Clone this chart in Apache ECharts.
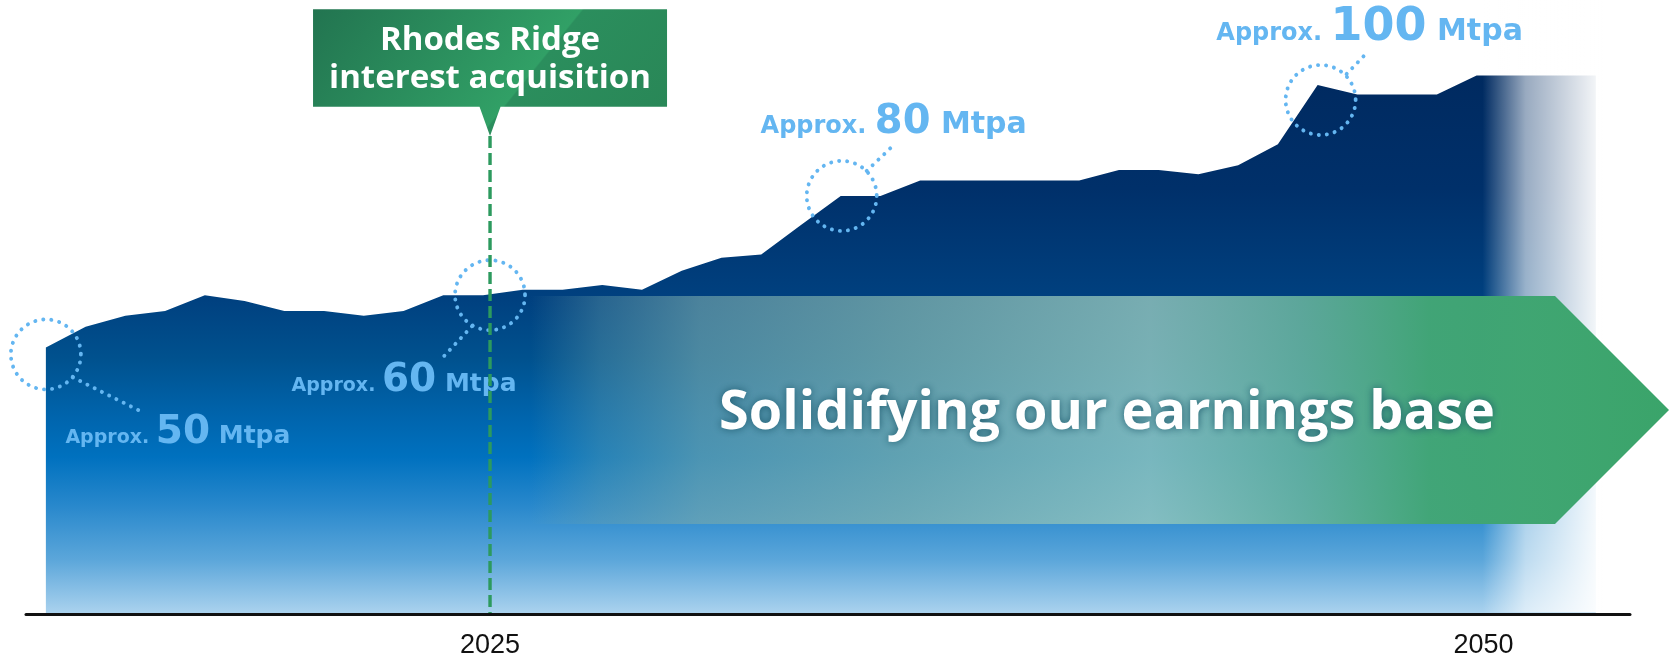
<!DOCTYPE html>
<html><head><meta charset="utf-8">
<script src="https://cdn.jsdelivr.net/npm/echarts@6/dist/echarts.min.js"></script>
<style>html,body{margin:0;padding:0;background:#fff}#c{width:1671px;height:657px}</style>
</head><body><div id="c"></div>
<script>
// ---------------- data ----------------
const years = [2014,2015,2016,2017,2018,2019,2020,2021,2022,2023,2024,2025,2026,2027,2028,2029,2030,2031,2032,2033,2034,2035,2036,2037,2038,2039,2040,2041,2042,2043,2044,2045,2046,2047,2048,2049,2050,2051,2052,2053];
const capacity = [50.3,54.2,56.3,57.2,60.2,59.1,57.2,57.2,56.3,57.2,60.2,60.2,61.2,61.2,62.1,61.2,64.8,67.3,67.9,73.5,79.0,79.0,81.9,81.9,81.9,81.9,81.9,83.9,83.9,83.1,84.8,88.8,100.0,98.2,98.2,98.2,101.8,101.8,101.8,101.8];
const tickYears = [2025, 2050];
const milestoneYears = [2014, 2025, 2034, 2046];
const milestoneLabels = ['50', '60', '80', '100'];
const acquisitionYear = 2025;
const acquisitionText = ['Rhodes Ridge', 'interest acquisition'];
const bannerText = 'Solidifying our earnings base';

// ---------------- styles / layout ----------------
const DOT = '#64b6f1';
const LABEL_FONT = '"DejaVu Sans", sans-serif';
const MAIN_FONT = '"Open Sans", sans-serif';
const TICK_SHIFT = 7; // ticks drawn slightly right of the yearly points
const milestoneStyle = [
  {dx:0, dy:7,  from:[27,23],  to:[93,56],  lx:132, ly:88.6, sizes:[19,39,25]},
  {dx:7, dy:0,  from:[-18,31], to:[-47,62], lx:-86, ly:96,   sizes:[19,39,25]},
  {dx:1, dy:0,  from:[25,-25], to:[49,-48], lx:52,  ly:-62.5, sizes:[24,40,30]},
  {dx:3, dy:15, from:[26,-26], to:[48,-49], lx:49,  ly:-60.5, sizes:[24,46,30]}
];

// text measurement: width and distance from the 'middle' line down to the baseline
const mctx = document.createElement('canvas').getContext('2d');
function measure(font, text){
  mctx.font = font; mctx.textBaseline = 'middle';
  const w = mctx.measureText(text).width;
  const a = mctx.measureText('H').actualBoundingBoxDescent;
  return {w, a};
}
function baselineText(x, baseline, text, font, fill, align, extra){
  const m = measure(font, text);
  return Object.assign({type:'text', x:x, y:baseline - m.a,
    style:{text, font, fill, align:align||'left', verticalAlign:'middle'}}, extra||{});
}

const chart = echarts.init(document.getElementById('c'));
const areaData = years.map((y,i)=>[y, capacity[i]]);
const milestoneData = milestoneYears.map((y,i)=>[y, capacity[years.indexOf(y)], i]);

const areaGradient = new echarts.graphic.LinearGradient(0,0,0,1,[
  {offset:0,    color:'#002a60'},
  {offset:0.21, color:'#00306a'},
  {offset:0.42, color:'#004180'},
  {offset:0.53, color:'#00528f'},
  {offset:0.62, color:'#0062a9'},
  {offset:0.71, color:'#0071bf'},
  {offset:0.80, color:'#2888cc'},
  {offset:0.90, color:'#5ba6da'},
  {offset:1,    color:'#aad2ee'}
]);

const option = {
  animation:false,
  grid:{left:26, right:41, top:32.2, bottom:44, containLabel:false, outerBoundsMode:'none'},
  xAxis:{
    type:'value', min:2013.5, max:2053.86, z:10, offset:1,
    axisLine:{show:true, onZero:false, lineStyle:{color:'#111', width:3}},
    axisTick:{show:false}, splitLine:{show:false},
    axisLabel:{customValues:tickYears, formatter:v=>String(v), color:'#111',
      fontSize:27, fontFamily:'"Liberation Sans", sans-serif', margin:18,
      padding:[0,0,0,TICK_SHIFT*2]}
  },
  yAxis:{type:'value', min:0, max:110, show:false},
  series:[
    {type:'line', data:areaData, showSymbol:false, symbol:'none', z:2,
     lineStyle:{width:0}, areaStyle:{color:areaGradient, opacity:1}, silent:true},
    {type:'custom', z:6, data:milestoneData, silent:true, clip:false,
     renderItem(params, api){
       const i = api.value(2);
       const s = milestoneStyle[i];
       const p = api.coord([api.value(0), api.value(1)]);
       const cx = p[0]+s.dx, cy = p[1]+s.dy;
       const fA = 'bold '+s.sizes[0]+'px '+LABEL_FONT;
       const fN = 'bold '+s.sizes[1]+'px '+LABEL_FONT;
       const fM = 'bold '+s.sizes[2]+'px '+LABEL_FONT;
       const tA = 'Approx.', tN = milestoneLabels[i], tM = 'Mtpa';
       const wA = measure(fA,tA).w, wN = measure(fN,tN).w, wM = measure(fM,tM).w;
       const g1 = measure(fA,' ').w, g2 = measure(fM,' ').w;
       const W = wA+g1+wN+g2+wM;
       const x0 = cx + s.lx - W/2, bl = cy + s.ly;
       return {type:'group', children:[
         {type:'circle', shape:{cx, cy, r:35},
          style:{fill:'rgba(0,0,0,0)', stroke:DOT, lineWidth:3.9, lineDash:[0.1,8], lineCap:'round'}},
         {type:'line', shape:{x1:cx+s.from[0], y1:cy+s.from[1], x2:cx+s.to[0], y2:cy+s.to[1]},
          style:{stroke:DOT, lineWidth:3.9, lineDash:[0.1,8], lineCap:'round'}},
         baselineText(x0, bl, tA, fA, DOT),
         baselineText(x0+wA+g1, bl, tN, fN, DOT),
         baselineText(x0+wA+g1+wN+g2, bl, tM, fM, DOT)
       ]};
     }},
    {type:'custom', z:8, data:[[acquisitionYear, 0]], silent:true, clip:false,
     renderItem(params, api){
       const b = api.coord([api.value(0), 0]);
       const x = b[0] + TICK_SHIFT, yb = b[1];
       const top = 9.3, h = 97.4, w = 354, tipY = 136, half = 10.5;
       const l = x - w/2, r = x + w/2, bot = top + h;
       const grad = new echarts.graphic.LinearGradient(l, top, l+262, top+212, [
         {offset:0, color:'#227450'},
         {offset:0.62, color:'#31a066'},
         {offset:0.625, color:'#2b8e5d'},
         {offset:1, color:'#298757'}
       ], true);
       const f = 'bold 33px '+MAIN_FONT;
       return {type:'group', children:[
         {type:'line', shape:{x1:x, y1:tipY, x2:x, y2:yb},
          style:{stroke:'#2c9a5e', lineWidth:3.4, lineDash:[12,5]}},
         {type:'polygon', shape:{points:[[l,top],[r,top],[r,bot],[x+half,bot],[x,tipY],[x-half,bot],[l,bot]]},
          style:{fill:grad}},
         baselineText(x, 50, acquisitionText[0], f, '#fff', 'center'),
         baselineText(x, 87.5, acquisitionText[1], f, '#fff', 'center')
       ]};
     }}
  ]
};
chart.setOption(option);

// banner and right-hand fade, placed with the chart's own x scale
const px = v => chart.convertToPixel({xAxisIndex:0}, v);
const fadeL = px(2050.15), fadeR = px(2053.25);
const bannerL = px(2026.2);
const bTop = 296, bBot = 524, shoulder = 1555, tip = 1669;
const bw = tip - bannerL;
const off = x => Math.max(0, Math.min(1, (x - bannerL)/bw));
const bannerFont = 'bold 54px '+MAIN_FONT;
chart.setOption({graphic:[
  {type:'rect', z:3, silent:true, shape:{x:fadeL, y:0, width:fadeR-fadeL, height:612.5},
   style:{fill:new echarts.graphic.LinearGradient(0,0,1,0,[
     {offset:0, color:'rgba(255,255,255,0)'},{offset:0.35, color:'rgba(255,255,255,0.6)'},{offset:1, color:'#fff'}])}},
  {type:'rect', z:3, silent:true, shape:{x:fadeR-1, y:0, width:1671-fadeR+1, height:612.5}, style:{fill:'#fff'}},
  {type:'polygon', z:4, silent:true,
   shape:{points:[[bannerL,bTop],[shoulder,bTop],[tip,(bTop+bBot)/2],[shoulder,bBot],[bannerL,bBot]]},
   style:{fill:new echarts.graphic.LinearGradient(0,0,1,0,[
     {offset:0, color:'rgba(105,160,170,0)'},
     {offset:off(600), color:'rgba(105,160,170,0.38)'},
     {offset:off(700), color:'rgba(118,168,172,0.64)'},
     {offset:off(900), color:'rgba(128,178,174,0.75)'},
     {offset:off(1150), color:'rgba(150,200,190,0.8)'},
     {offset:off(1300), color:'rgba(105,180,158,0.88)'},
     {offset:off(1430), color:'rgba(66,166,118,0.98)'},
     {offset:1, color:'rgb(58,164,106)'}])}},
  {type:'text', z:5, silent:true, x:1107, y:428.5 - measure(bannerFont,'H').a,
   style:{text:bannerText, fill:'#fff', font:bannerFont, align:'center', verticalAlign:'middle',
          textShadowColor:'rgba(25,85,105,0.9)', textShadowBlur:9}}
]});
</script>
</body></html>
